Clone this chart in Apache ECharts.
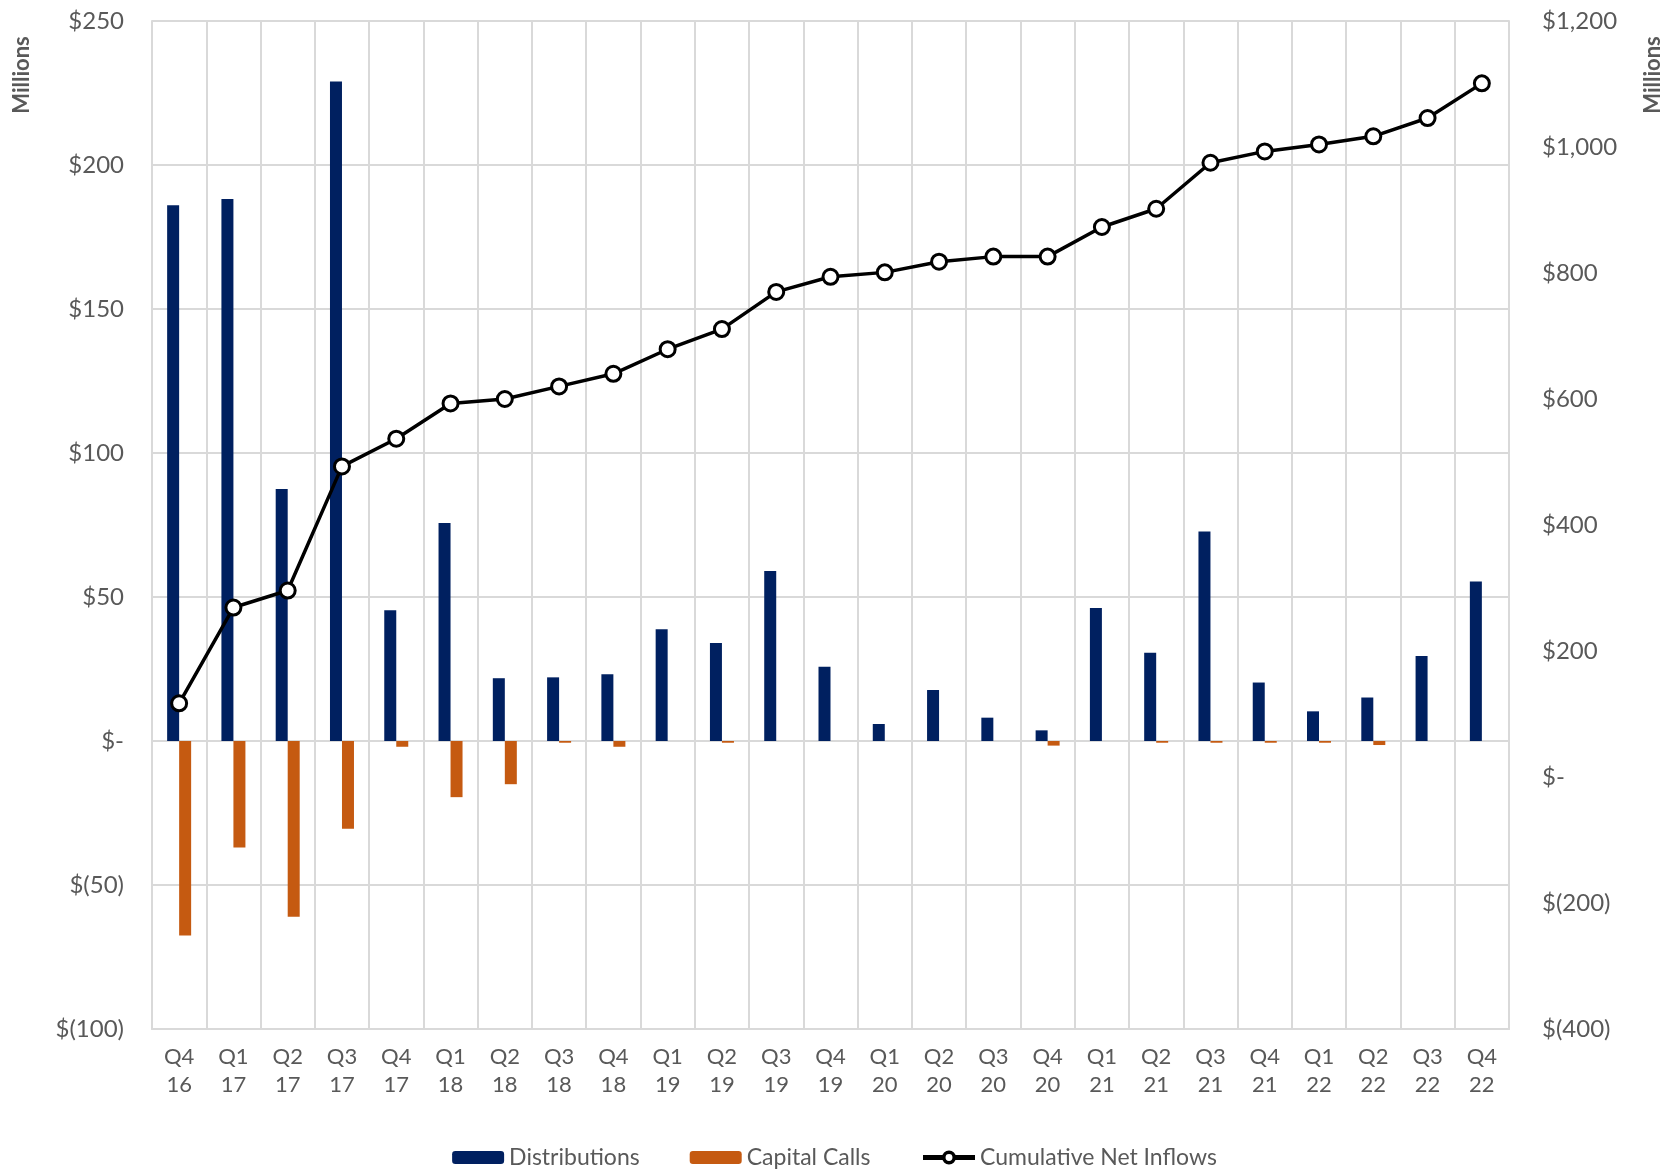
<!DOCTYPE html>
<html>
<head>
<meta charset="utf-8">
<script src="https://cdn.jsdelivr.net/npm/echarts@6/dist/echarts.min.js"></script>
<style>
html,body{margin:0;padding:0;background:#fff;}
#chart{width:1669px;height:1170px;}
</style>
</head>
<body>
<div id="chart"></div>
<script>
const categories = ["Q4\n16","Q1\n17","Q2\n17","Q3\n17","Q4\n17","Q1\n18","Q2\n18","Q3\n18","Q4\n18","Q1\n19","Q2\n19","Q3\n19","Q4\n19","Q1\n20","Q2\n20","Q3\n20","Q4\n20","Q1\n21","Q2\n21","Q3\n21","Q4\n21","Q1\n22","Q2\n22","Q3\n22","Q4\n22"];
const distributions = [186, 188.2, 87.5, 229, 45.4, 75.7, 21.8, 22.1, 23.2, 38.8, 34.0, 59.0, 25.8, 5.9, 17.7, 8.1, 3.7, 46.2, 30.6, 72.7, 20.3, 10.3, 15.1, 29.5, 55.4];
const capitalCalls = [-67.5, -37, -61, -30.5, -2, -19.5, -15, -0.6, -2, 0, -0.6, 0, 0, 0, 0, 0, -1.6, 0, -0.6, -0.6, -0.6, -0.6, -1.4, 0, 0];
const cumulativeNetInflows = [117, 269, 296, 493, 537, 593, 600, 620, 640, 679, 711, 770, 794, 801, 818, 826, 826, 873, 902, 975, 993, 1004, 1017, 1046, 1101];
const leftTicks = {min: -100, max: 250, interval: 50};
const rightTicks = {min: -400, max: 1200, interval: 200};

const FONT = 'Lato';
const GRAY = '#595959';
const GRID = '#d9d9d9';

function money(v){
  if (v === 0) return '$-';
  const s = Math.abs(v).toLocaleString('en-US');
  return v < 0 ? '$(' + s + ')' : '$' + s;
}

const chart = echarts.init(document.getElementById('chart'), null, {renderer:'canvas'});
chart.setOption({
  animation: false,
  backgroundColor: '#fff',
  textStyle: {fontFamily: FONT, color: GRAY},
  grid: {left: 152, right: 160, top: 21, bottom: 141, containLabel: false},
  legend: {
    top: 1141, left: 'center', itemGap: 50, itemWidth: 52, itemHeight: 13,
    textStyle: {fontFamily: FONT, fontSize: 23, color: GRAY},
    data: [
      'Distributions',
      'Capital Calls',
      {name: 'Cumulative Net Inflows', itemStyle: {borderWidth: 3.5}, lineStyle: {width: 5}}
    ]
  },
  graphic: [
    {type:'text', x: 22, y: 75, rotation: Math.PI/2, style:{text:'Millions', font:'bold 22px ' + FONT, fill: GRAY, align:'center', verticalAlign:'middle'}},
    {type:'text', x: 1653, y: 75, rotation: Math.PI/2, style:{text:'Millions', font:'bold 22px ' + FONT, fill: GRAY, align:'center', verticalAlign:'middle'}}
  ],
  xAxis: {
    type: 'category', data: categories, boundaryGap: true,
    axisLine: {show: true, onZero: false, lineStyle: {color: GRID, width: 2}},
    axisTick: {show: false},
    splitLine: {show: true, lineStyle: {color: GRID, width: 2}},
    axisLabel: {fontFamily: FONT, fontSize: 22, color: GRAY, margin: 14, lineHeight: 28, interval: 0}
  },
  yAxis: [
    {
      type: 'value', min: leftTicks.min, max: leftTicks.max, interval: leftTicks.interval,
      axisLine: {show: true, lineStyle: {color: GRID, width: 2}},
      axisTick: {show: false},
      splitLine: {show: true, lineStyle: {color: GRID, width: 2}},
      axisLabel: {fontFamily: FONT, fontSize: 24, color: GRAY, margin: 28, formatter: money}
    },
    {
      type: 'value', min: rightTicks.min, max: rightTicks.max, interval: rightTicks.interval,
      axisLine: {show: true, lineStyle: {color: GRID, width: 2}},
      axisTick: {show: false},
      splitLine: {show: false},
      axisLabel: {fontFamily: FONT, fontSize: 24, color: GRAY, margin: 33, formatter: money}
    }
  ],
  series: [
    {name:'Distributions', type:'bar', data: distributions, yAxisIndex: 0, barWidth: 12, barGap: '0%', itemStyle:{color:'#002060'}},
    {name:'Capital Calls', type:'bar', data: capitalCalls, yAxisIndex: 0, barWidth: 12, barGap: '0%', itemStyle:{color:'#c55a11'}},
    {name:'Cumulative Net Inflows', type:'line', data: cumulativeNetInflows, yAxisIndex: 1, z: 5,
      symbol:'circle', symbolSize: 15, showAllSymbol: true,
      lineStyle:{color:'#000', width: 3.5},
      itemStyle:{color:'#fff', borderColor:'#000', borderWidth: 3}}
  ]
});
</script>
</body>
</html>
